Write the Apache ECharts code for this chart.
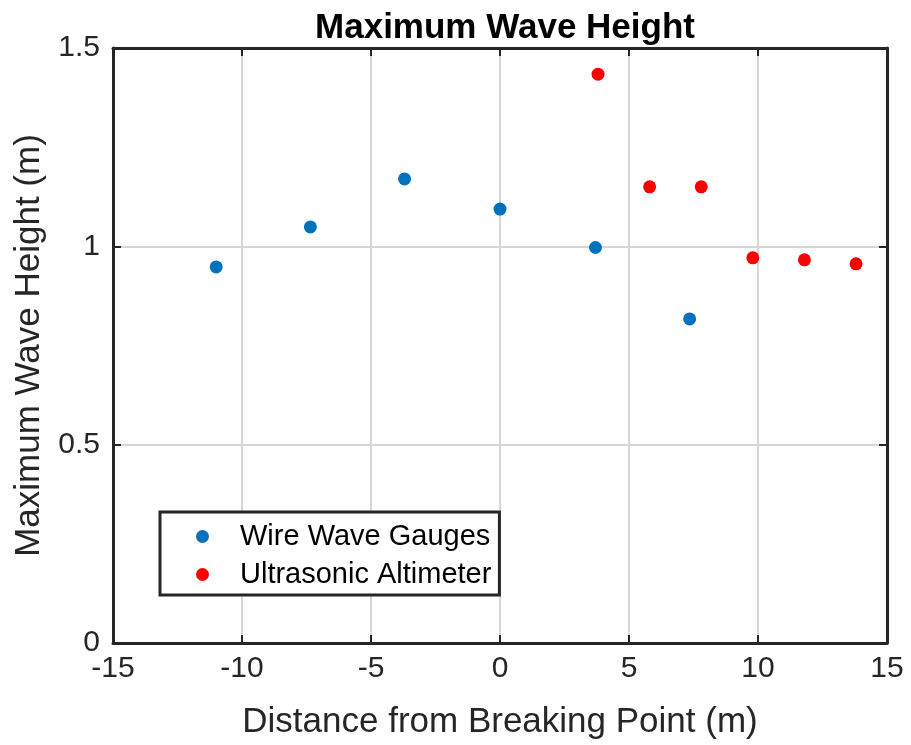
<!DOCTYPE html>
<html><head><meta charset="utf-8">
<script src="https://cdn.jsdelivr.net/npm/echarts@6/dist/echarts.min.js"></script>
<style>html,body{margin:0;padding:0;background:#fff}#c{width:911px;height:745px}</style>
</head><body><div id="c"></div>
<script>
var titleText = 'Maximum Wave Height';
var xName = 'Distance from Breaking Point (m)';
var yName = 'Maximum Wave Height (m)';
var wireX = [-11.0, -7.35, -3.7, 0.0, 3.7, 7.35];
var wireY = [0.948, 1.049, 1.170, 1.094, 0.997, 0.817];
var altX = [3.8, 5.8, 7.8, 9.8, 11.8, 13.8];
var altY = [1.434, 1.150, 1.150, 0.971, 0.966, 0.956];
var seriesNames = ['Wire Wave Gauges', 'Ultrasonic Altimeter'];

function pairs(xs, ys){ return xs.map(function(x,i){return [x, ys[i]];}); }
var font = 'Liberation Sans, Arial, sans-serif';
var dark = '#262626';
var tick = {show:true,inside:true,length:8,lineStyle:{color:dark,width:2}};
var line = {show:true,onZero:false,lineStyle:{color:dark,width:3}};
var chart = echarts.init(document.getElementById('c'));
chart.setOption({
  animation:false,
  backgroundColor:'#fff',
  title:{text:titleText,left:500,top:6,textAlign:'center',textStyle:{fontFamily:font,fontWeight:'bold',fontSize:35,color:'#000'}},
  grid:{left:113,right:24,top:48,bottom:102,show:false,containLabel:false,outerBoundsMode:'none'},
  legend:{left:160,top:512,orient:'vertical',itemGap:9,padding:[10,8,6,36],borderColor:dark,borderWidth:3,backgroundColor:'#fff',
    icon:'circle',itemWidth:13,itemHeight:13,textStyle:{fontFamily:font,fontSize:29,color:'#000',padding:[0,0,0,26]},data:seriesNames},
  xAxis:[{type:'value',min:-15,max:15,interval:5,name:xName,nameLocation:'middle',nameGap:62,
    nameTextStyle:{fontFamily:font,fontSize:35,color:dark},
    axisLine:line,axisTick:tick,
    axisLabel:{fontFamily:font,fontSize:30,color:dark,margin:11},
    splitLine:{show:true,lineStyle:{color:'#d6d6d6',width:2}}},
    {type:'value',position:'top',min:-15,max:15,interval:5,axisLine:line,axisTick:tick,axisLabel:{show:false},splitLine:{show:false}}],
  yAxis:[{type:'value',min:0,max:1.5,interval:0.5,name:yName,nameLocation:'middle',nameGap:66,
    nameTextStyle:{fontFamily:font,fontSize:35,color:dark},
    axisLine:line,axisTick:tick,
    axisLabel:{fontFamily:font,fontSize:30,color:dark,margin:13,formatter:function(v){return String(v);}},
    splitLine:{show:true,lineStyle:{color:'#d6d6d6',width:2}}},
    {type:'value',position:'right',min:0,max:1.5,interval:0.5,axisLine:line,axisTick:tick,axisLabel:{show:false},splitLine:{show:false}}],
  series:[
    {name:seriesNames[0],type:'scatter',symbol:'circle',symbolSize:13,itemStyle:{color:'#0072BD',opacity:1},data:pairs(wireX,wireY),z:3},
    {name:seriesNames[1],type:'scatter',symbol:'circle',symbolSize:13,itemStyle:{color:'#FF0000',opacity:1},data:pairs(altX,altY),z:3}
  ]
});
</script></body></html>
